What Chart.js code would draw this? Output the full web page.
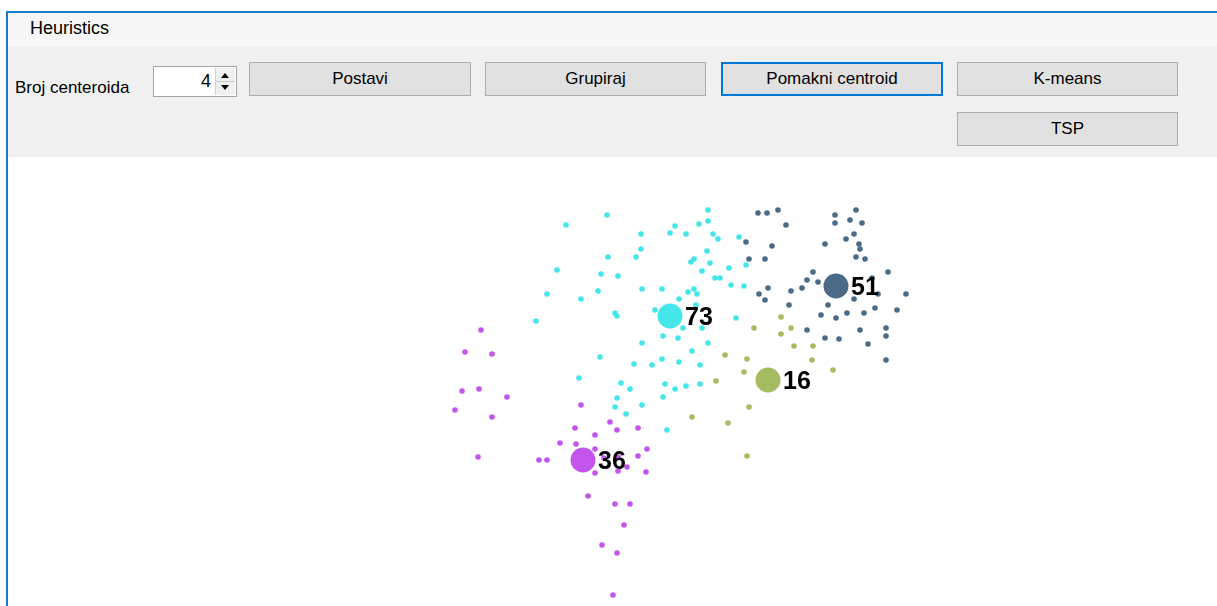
<!DOCTYPE html>
<html>
<head>
<meta charset="utf-8">
<script src="https://cdn.jsdelivr.net/npm/chart.js@4"></script>
<style>
  body { margin: 0; width: 1217px; height: 606px; overflow: hidden; background: #fff; font-family: "Liberation Sans", Arial, sans-serif; position: relative; }
  .frame { position: absolute; left: 6px; top: 11px; width: 1211px; height: 595px; border-left: 2px solid #1979ca; border-top: 2px solid #1979ca; box-sizing: border-box; }
  .menu { position: absolute; left: 8px; top: 13px; width: 1209px; height: 34px; background: #f6f6f6; }
  .menu span { position: absolute; left: 22px; top: 5px; font-size: 18px; color: #000; }
  .panel { position: absolute; left: 8px; top: 47px; width: 1209px; height: 110px; background: #f0f0f0; }
  .lbl { position: absolute; left: 15px; top: 78px; font-size: 17px; color: #000; }
  .num { position: absolute; left: 153px; top: 66px; width: 84px; height: 31px; background: #fff; border: 1px solid #a5a5a5; box-sizing: border-box; }
  .num .v { position: absolute; right: 25px; top: 4px; font-size: 18px; }
  .num .spin { position: absolute; right: 1px; top: 1px; width: 19px; height: 27px; background: #f0f0f0; border-left: 1px solid #d0d0d0; }
  .up, .dn { position: absolute; left: 5px; width: 0; height: 0; border-left: 4px solid transparent; border-right: 4px solid transparent; }
  .up { top: 5px; border-bottom: 5px solid #000; }
  .dn { top: 17px; border-top: 5px solid #000; }
  .mid { position: absolute; left: 0; top: 13px; width: 19px; height: 1px; background: #c8c8c8; }
  .btn { position: absolute; height: 34px; background: #e1e1e1; border: 1px solid #adadad; box-sizing: border-box; font-size: 17px; text-align: center; line-height: 32px; color: #000; }
  .btn.focus { border: 2px solid #0078d7; line-height: 30px; }
  #wrap { position: absolute; left: 8px; top: 157px; width: 1209px; height: 449px; }
</style>
</head>
<body>
<div class="frame"></div>
<div class="menu"><span>Heuristics</span></div>
<div class="panel"></div>
<div class="lbl">Broj centeroida</div>
<div class="num"><span class="v">4</span><div class="spin"><div class="up"></div><div class="mid"></div><div class="dn"></div></div></div>
<div class="btn" style="left:249px;top:62px;width:222px">Postavi</div>
<div class="btn" style="left:485px;top:62px;width:221px">Grupiraj</div>
<div class="btn focus" style="left:721px;top:62px;width:222px">Pomakni centroid</div>
<div class="btn" style="left:957px;top:62px;width:221px">K-means</div>
<div class="btn" style="left:957px;top:112px;width:221px">TSP</div>
<div id="wrap"><canvas id="chart" width="1209" height="449"></canvas></div>
<script>
// point positions in panel coordinates (x right, y down)
var cyanPts = [
  [558,68],[549,113],[593,117],[590,134],[539,137],[573,142],[528,164],[592,200],[571,221],
  [599,58],[700,53],[667,69],[691,67],[700,64],[662,76],[633,77],[678,77],[705,77],[710,82],
  [731,80],[633,92],[628,100],[600,100],[699,94],[686,102],[683,105],[702,106],[738,108],
  [721,111],[694,114],[610,119],[707,121],[712,121],[723,128],[736,129],[634,132],[654,132],
  [686,132],[680,135],[689,137],[671,142],[688,148],[607,156],[609,159],[647,153],[675,171],
  [694,171],[728,161],[655,179],[670,181],[634,186],[700,186],[684,194],[654,202],[671,205],
  [626,207],[644,208],[692,208],[613,226],[622,232],[657,227],[667,232],[678,229],[692,227],
  [655,240],[609,241],[607,250],[634,248],[618,257],[659,273]
];
var slatePts = [
  [750,56],[759,56],[770,53],[738,85],[741,102],[751,137],[778,68],[764,89],[757,102],
  [827,58],[848,53],[827,66],[842,63],[854,66],[846,77],[838,82],[817,87],[851,87],[852,92],
  [848,100],[857,102],[805,115],[880,115],[799,123],[810,125],[794,131],[760,131],[783,134],
  [757,143],[864,121],[870,137],[898,137],[846,142],[781,148],[820,148],[867,151],[889,153],
  [813,158],[839,156],[856,156],[828,161],[799,173],[852,173],[878,171],[878,179],[817,181],
  [831,182],[860,187],[878,203]
];
var olivePts = [
  [746,171],[717,198],[739,202],[736,215],[708,224],[773,160],[783,171],[773,177],[786,189],
  [805,189],[804,203],[825,213],[684,260],[720,266],[741,250],[739,299]
];
var purplePts = [
  [473,173],[457,195],[484,197],[454,234],[471,232],[499,240],[447,253],[484,260],[573,248],
  [567,271],[587,278],[552,286],[568,287],[587,292],[470,300],[531,303],[539,303],[587,316],
  [580,339],[594,388],[602,265],[609,273],[630,271],[639,292],[630,299],[619,310],[610,314],
  [638,315],[607,347],[622,347],[616,368],[609,396],[605,438],[596,301],[610,300]
];
var centroidX = [662, 828, 760, 575];
var centroidY = [159, 129, 223, 303];
var clusterCounts = [73, 51, 16, 36];
var clusterColors = ['#44e6ea', '#4a6a86', '#a6bc60', '#c454ec'];

function toXY(arr) {
  return arr.map(function (p) { return { x: p[0], y: p[1] }; });
}

function clusterSet(pts, color) {
  return {
    data: toXY(pts),
    backgroundColor: color,
    borderWidth: 0,
    pointRadius: 2.8,
    pointHoverRadius: 2.8,
    order: 1
  };
}

// draws the cluster size next to each centroid
var countLabels = {
  id: 'countLabels',
  afterDatasetsDraw: function (chart) {
    var meta = chart.getDatasetMeta(0);
    var ctx = chart.ctx;
    ctx.save();
    ctx.font = 'bold 25px "Liberation Sans", Arial, sans-serif';
    ctx.textBaseline = 'middle';
    ctx.fillStyle = '#000';
    meta.data.forEach(function (pt, i) {
      ctx.fillText(String(clusterCounts[i]), pt.x + 15, pt.y + 2);
    });
    ctx.restore();
  }
};

var c = document.getElementById('chart');
var ctx = c.getContext('2d');
var myChart = new Chart(ctx, {
  type: 'scatter',
  data: {
    datasets: [
      {
        data: centroidX.map(function (x, i) { return { x: x, y: centroidY[i] }; }),
        backgroundColor: clusterColors,
        borderWidth: 0,
        pointRadius: 12.5,
        pointHoverRadius: 12.5,
        order: 0
      },
      clusterSet(cyanPts, clusterColors[0]),
      clusterSet(slatePts, clusterColors[1]),
      clusterSet(olivePts, clusterColors[2]),
      clusterSet(purplePts, clusterColors[3])
    ]
  },
  options: {
    responsive: false,
    animation: false,
    layout: { padding: 0, autoPadding: false },
    plugins: {
      legend: { display: false },
      tooltip: { enabled: false }
    },
    scales: {
      x: { type: 'linear', min: 0, max: 1209, display: false },
      y: { type: 'linear', min: 0, max: 449, reverse: true, display: false }
    }
  },
  plugins: [countLabels]
});
</script>
</body>
</html>
